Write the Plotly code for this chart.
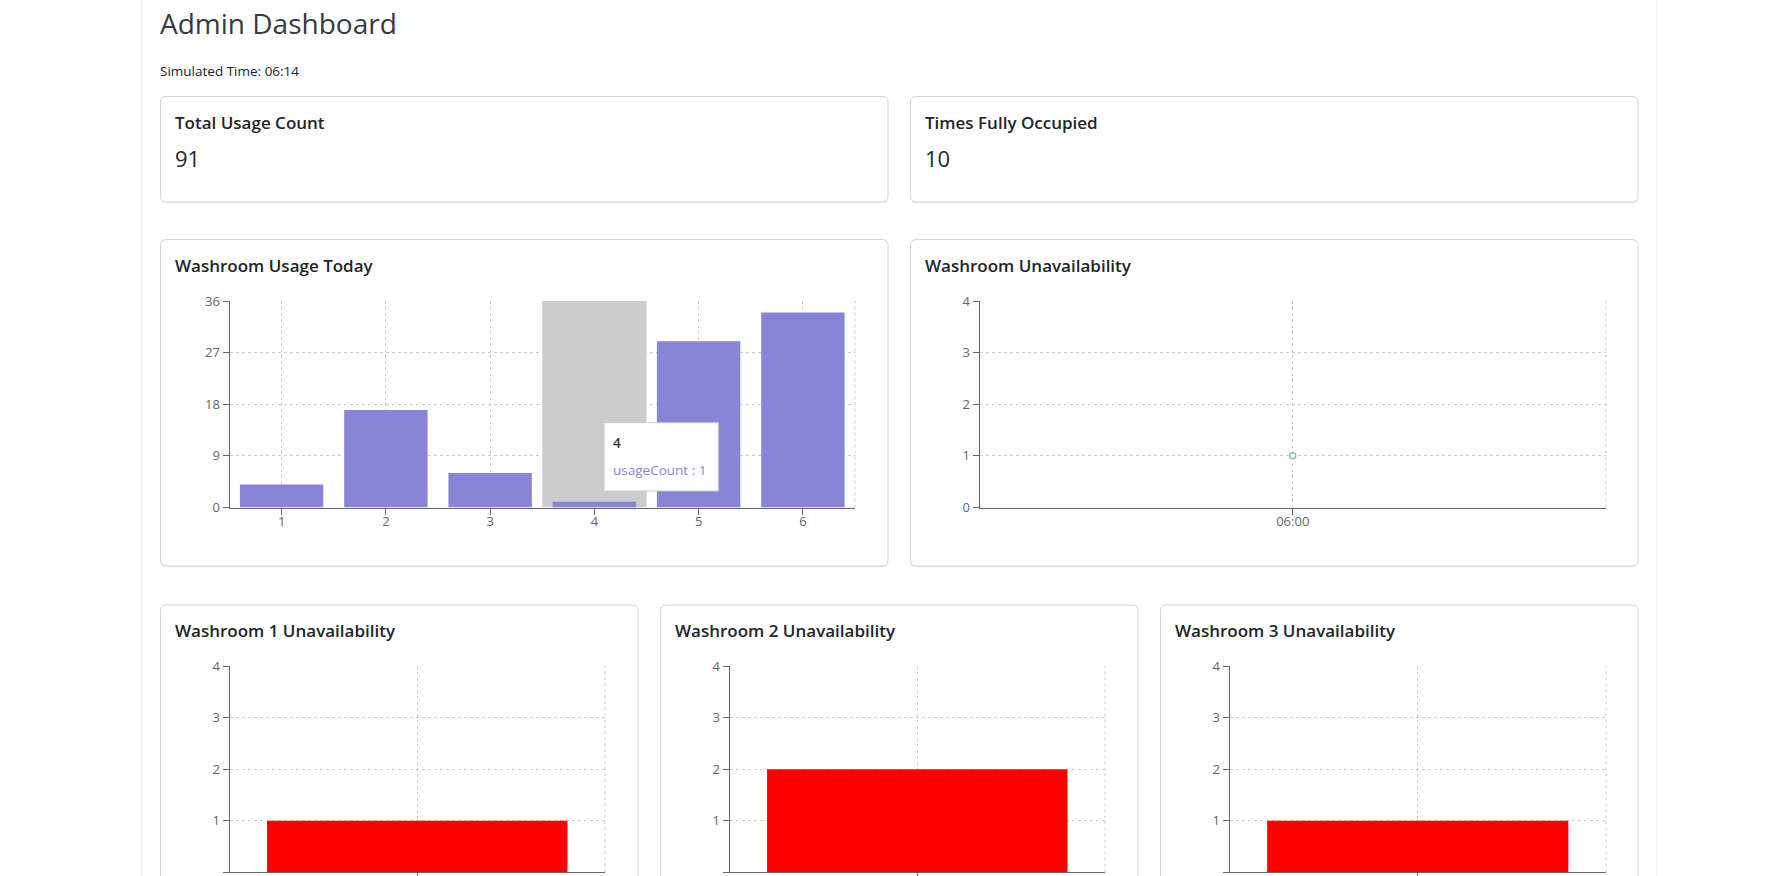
import plotly.graph_objects as go

W, H = 1790, 876
FONT = "Open Sans"

# ---------------- data ----------------
dashboard_title = "Admin Dashboard"
simulated_time = "06:14"
summary_labels = ["Total Usage Count", "Times Fully Occupied"]
summary_values = [91, 10]

usage_title = "Washroom Usage Today"
usage_washrooms = [1, 2, 3, 4, 5, 6]
usage_counts = [4, 17, 6, 1, 29, 34]
usage_yticks = [0, 9, 18, 27, 36]
usage_series_name = "usageCount"
hovered_washroom = 4

unavail_title = "Washroom Unavailability"
unavail_times = ["06:00"]
unavail_counts = [1]
unavail_yticks = [0, 1, 2, 3, 4]

per_washroom_titles = ["Washroom 1 Unavailability",
                       "Washroom 2 Unavailability",
                       "Washroom 3 Unavailability"]
per_washroom_slots = ["06:00"]
per_washroom_counts = [[1], [2], [1]]

# ---------------- colours ----------------
BAR_PURPLE = "#8884d8"
LINE_GREEN = "#82ca9d"
BAR_RED = "#ff0000"
AXIS_GREY = "#666666"
GRID_GREY = "#cccccc"
CURSOR_GREY = "#cccccc"
TEXT_DARK = "#212529"


def X(v):
    return v / W


def Y(v):
    return 1 - v / H


def rounded_path(x0, y0, x1, y1, r=6):
    return (f"M {X(x0 + r)},{Y(y0)} L {X(x1 - r)},{Y(y0)} "
            f"Q {X(x1)},{Y(y0)} {X(x1)},{Y(y0 + r)} "
            f"L {X(x1)},{Y(y1 - r)} Q {X(x1)},{Y(y1)} {X(x1 - r)},{Y(y1)} "
            f"L {X(x0 + r)},{Y(y1)} Q {X(x0)},{Y(y1)} {X(x0)},{Y(y1 - r)} "
            f"L {X(x0)},{Y(y0 + r)} Q {X(x0)},{Y(y0)} {X(x0 + r)},{Y(y0)} Z")


shapes = []
annotations = []

# page container faint borders
for cx in (141.7, 1657):
    shapes.append(dict(type="line", xref="paper", yref="paper",
                       x0=X(cx), x1=X(cx), y0=0, y1=1,
                       line=dict(color="#ececec", width=1), layer="below"))

# cards (pixel boxes)
cards = [
    (160.5, 96.5, 888, 202), (910.5, 96.5, 1638, 202),
    (160.5, 239.5, 888, 566), (910.5, 239.5, 1638, 566),
    (160.5, 605, 638, 910), (660.5, 605, 1138, 910), (1160.5, 605, 1638, 910),
]
for (x0, y0, x1, y1) in cards:
    shapes.append(dict(type="path", xref="paper", yref="paper",
                       path=rounded_path(x0, y0 + 1.5, x1, y1 + 1.5),
                       fillcolor="rgba(0,0,0,0.05)", line=dict(width=0), layer="below"))
    shapes.append(dict(type="path", xref="paper", yref="paper",
                       path=rounded_path(x0, y0, x1, y1),
                       fillcolor="white", line=dict(color="#d4d4d4", width=1), layer="below"))


def text(x, y, s, size, color=TEXT_DARK, weight=None, anchor="left"):
    f = dict(family=FONT, size=size, color=color)
    if weight:
        f["weight"] = weight
    annotations.append(dict(xref="paper", yref="paper", x=X(x), y=Y(y), text=s,
                            showarrow=False, xanchor=anchor, yanchor="middle",
                            font=f, borderpad=0, borderwidth=0))


# headings
text(160, 23, dashboard_title, 28, color="#343a40", weight=500)
text(160, 71, f"Simulated Time: {simulated_time}", 13.5, color=TEXT_DARK)

# summary cards
for (x0, _, _, _), lab, val in zip(cards[:2], summary_labels, summary_values):
    text(x0 + 14, 122.5, lab, 17, weight=600)
    text(x0 + 14, 158, str(val), 22)

# chart card titles
text(cards[2][0] + 14, 265, usage_title, 17, weight=600)
text(cards[3][0] + 14, 265, unavail_title, 17, weight=600)
for (x0, _, _, _), t in zip(cards[4:], per_washroom_titles):
    text(x0 + 14, 630.5, t, 17, weight=600)

# ---------------- axes ----------------
axis_common = dict(showline=True, linecolor=AXIS_GREY, linewidth=1,
                   ticks="outside", ticklen=6, tickcolor=AXIS_GREY, tickwidth=1,
                   tickfont=dict(family=FONT, size=13, color=AXIS_GREY),
                   showgrid=True, gridcolor=GRID_GREY, gridwidth=1, griddash="3px,3px",
                   zeroline=False, fixedrange=True, automargin=False)

plots = [  # (x_left, x_right, y_top, y_bottom)
    (229.5, 855, 301, 507.5),
    (979.5, 1606, 301, 507.5),
    (229.5, 605, 666, 872.3),
    (729.5, 1105, 666, 872.3),
    (1229.5, 1606, 666, 872.3),
]

layout_axes = {}
for i, (xl, xr, yt, yb) in enumerate(plots, start=1):
    xk = "xaxis" if i == 1 else f"xaxis{i}"
    yk = "yaxis" if i == 1 else f"yaxis{i}"
    xa = dict(axis_common, domain=[X(xl), X(xr)], anchor="y" if i == 1 else f"y{i}",
              ticklabelstandoff=-4)
    ya = dict(axis_common, domain=[Y(yb), Y(yt)], anchor="x" if i == 1 else f"x{i}")
    if i == 1:
        xa.update(type="linear", range=[min(usage_washrooms) - 0.5, max(usage_washrooms) + 0.5],
                  tickvals=usage_washrooms, ticktext=[str(v) for v in usage_washrooms])
        ya.update(range=[0, max(usage_yticks)], tickvals=usage_yticks)
    else:
        cats = unavail_times if i == 2 else per_washroom_slots
        xa.update(type="category", range=[-0.5, len(cats) - 0.5])
        ya.update(range=[0, max(unavail_yticks)], tickvals=unavail_yticks)
        if i >= 3:
            xa.update(showticklabels=False)  # labels fall below the visible page
    layout_axes[xk] = xa
    layout_axes[yk] = ya
    xr_ref = "x" if i == 1 else f"x{i}"
    yr_ref = "y" if i == 1 else f"y{i}"
    # dashed grid line along right edge of plot (recharts style)
    shapes.append(dict(type="line", xref=f"{xr_ref} domain", yref=f"{yr_ref} domain",
                       x0=1, x1=1, y0=0, y1=1,
                       line=dict(color=GRID_GREY, width=1, dash="3px,3px"), layer="below"))

# tooltip
shapes.append(dict(type="rect", xref="paper", yref="paper",
                   x0=X(604), x1=X(718.3), y0=Y(491), y1=Y(422.7),
                   fillcolor="white", line=dict(color="#cccccc", width=1), layer="above"))
hidx = usage_washrooms.index(hovered_washroom)
text(613, 443, str(hovered_washroom), 13.5, color="#333333", weight=600)
text(613, 469.5, f"{usage_series_name} : {usage_counts[hidx]}", 13.5, color=BAR_PURPLE)

# ---------------- traces ----------------
fig = go.Figure()
# hover cursor band (full category band behind hovered bar)
fig.add_trace(go.Bar(x=[hovered_washroom], y=[max(usage_yticks)], width=[1.0],
                     marker=dict(color=CURSOR_GREY, line=dict(width=0)),
                     xaxis="x", yaxis="y", name="cursor"))
fig.add_trace(go.Bar(x=usage_washrooms, y=usage_counts, width=0.8,
                     marker=dict(color=BAR_PURPLE, line=dict(width=0)),
                     xaxis="x", yaxis="y", name=usage_series_name))
fig.add_trace(go.Scatter(x=unavail_times, y=unavail_counts, mode="lines+markers",
                         line=dict(color=LINE_GREEN, width=2),
                         marker=dict(symbol="circle", size=6, color="white",
                                     line=dict(color=LINE_GREEN, width=1.5)),
                         xaxis="x2", yaxis="y2"))
for k, counts in enumerate(per_washroom_counts):
    fig.add_trace(go.Bar(x=per_washroom_slots, y=counts, width=0.8,
                         marker=dict(color=BAR_RED, line=dict(width=0)),
                         xaxis=f"x{k + 3}", yaxis=f"y{k + 3}"))

fig.update_layout(
    width=W, height=H, margin=dict(l=0, r=0, t=0, b=0), autosize=False,
    paper_bgcolor="white", plot_bgcolor="rgba(0,0,0,0)",
    showlegend=False, hovermode=False, bargap=0.2, barmode="overlay",
    font=dict(family=FONT),
    shapes=shapes, annotations=annotations,
    **layout_axes,
)

fig.write_html(
    "out.html",
    config={"displayModeBar": False, "staticPlot": True, "responsive": False},
    post_script="document.body.style.margin='0';document.body.style.overflow='hidden';",
)
